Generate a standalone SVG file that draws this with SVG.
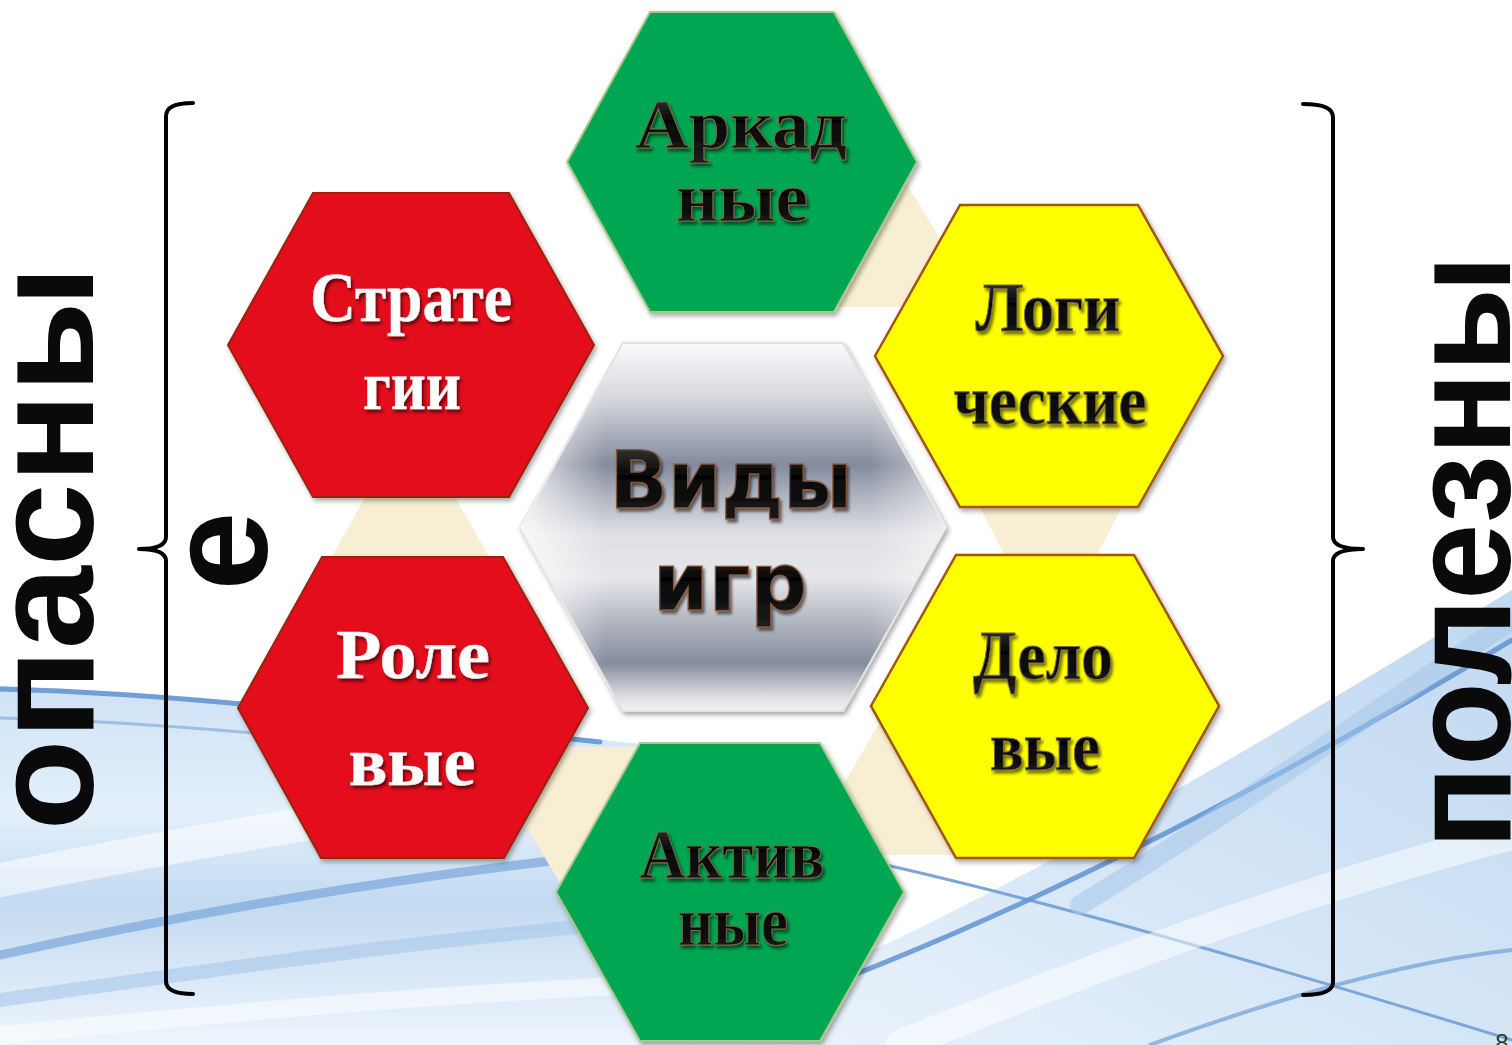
<svg xmlns="http://www.w3.org/2000/svg" width="1512" height="1045" viewBox="0 0 1512 1045">
<defs>
  <style>
    .hex-green{fill:#00a651;stroke:#a9c98a;stroke-width:2}
    .hex-red{fill:#e30b1c;stroke:#9a2410;stroke-width:2}
    .hex-yellow{fill:#ffff00;stroke:#a3540a;stroke-width:2.5}
    .conn{fill:#f8eed3}
    .serif{font-family:"Liberation Serif","Times New Roman",serif;font-weight:bold;font-size:70px;text-anchor:middle}
    .dark{fill:url(#gloss);stroke:#7c6a48;stroke-width:1}
    .light{fill:#ffffff;stroke:#f2e6e6;stroke-width:0.5}
    .sans{font-family:"DejaVu Sans","Liberation Sans",sans-serif;font-weight:bold;font-size:80px;text-anchor:middle;fill:url(#gloss);stroke:#8a5636;stroke-width:1.3}
    .side{font-family:"Liberation Sans",Arial,sans-serif;font-weight:bold;font-size:142px;fill:#0a0a0a;text-anchor:middle}
    .brace{fill:none;stroke:#000;stroke-width:4;stroke-linecap:round;stroke-linejoin:round}
    .wave{fill:none;stroke-linecap:round}
  </style>
  <linearGradient id="gloss" x1="0" y1="0" x2="0" y2="1">
    <stop offset="0" stop-color="#4a4a4a"/>
    <stop offset="0.45" stop-color="#050505"/>
    <stop offset="1" stop-color="#1e1e1e"/>
  </linearGradient>
  <linearGradient id="silver" x1="0" y1="0" x2="0" y2="1">
    <stop offset="0" stop-color="#fbfbfc"/>
    <stop offset="0.15" stop-color="#d6d8dd"/>
    <stop offset="0.33" stop-color="#838b9c"/>
    <stop offset="0.42" stop-color="#b0b5c0"/>
    <stop offset="0.52" stop-color="#dfe0e4"/>
    <stop offset="0.64" stop-color="#e6e7ea"/>
    <stop offset="0.76" stop-color="#b1b5bf"/>
    <stop offset="0.87" stop-color="#848c9d"/>
    <stop offset="0.96" stop-color="#dcdde1"/>
    <stop offset="1" stop-color="#f4f4f5"/>
  </linearGradient>
  <linearGradient id="silverSide" x1="0" y1="0" x2="1" y2="0">
    <stop offset="0" stop-color="#ffffff" stop-opacity="0.8"/>
    <stop offset="0.2" stop-color="#ffffff" stop-opacity="0"/>
    <stop offset="0.82" stop-color="#ffffff" stop-opacity="0"/>
    <stop offset="1" stop-color="#ffffff" stop-opacity="0.55"/>
  </linearGradient>
  <linearGradient id="bgL" x1="0" y1="0" x2="0" y2="1">
    <stop offset="0" stop-color="#cfe2f5"/>
    <stop offset="0.35" stop-color="#e4f0fb"/>
    <stop offset="0.6" stop-color="#c3daf1"/>
    <stop offset="1" stop-color="#eef5fc"/>
  </linearGradient>
  <linearGradient id="bgR" x1="0" y1="1" x2="1" y2="0">
    <stop offset="0" stop-color="#eef5fc"/>
    <stop offset="0.5" stop-color="#cfe2f5"/>
    <stop offset="1" stop-color="#b9d4ef"/>
  </linearGradient>
  <filter id="hexShadow" x="-10%" y="-10%" width="125%" height="125%">
    <feDropShadow dx="2" dy="3" stdDeviation="2.5" flood-color="#000" flood-opacity="0.35"/>
  </filter>
  <filter id="txtShadow" x="-10%" y="-20%" width="125%" height="150%">
    <feDropShadow dx="2" dy="3" stdDeviation="1.6" flood-color="#000" flood-opacity="0.55"/>
  </filter>
</defs>

<rect width="1512" height="1045" fill="#ffffff"/>

<g id="background">
  <path d="M0,686 C150,692 320,708 480,726 C560,735 640,744 700,750 L700,1045 L0,1045 Z" fill="url(#bgL)"/>
  <path class="wave" d="M0,689 C120,692 230,702 330,713 C420,723 520,734 600,742" stroke="#6f9fd6" stroke-width="5"/>
  <path class="wave" d="M0,718 C100,720 200,728 300,737 C380,745 460,752 540,758" stroke="#9dbfe6" stroke-width="3"/>
  <path class="wave" d="M0,880 C150,850 330,818 520,790 C600,778 660,770 720,765" stroke="#ffffff" stroke-width="34" opacity="0.55"/>
  <path class="wave" d="M0,955 C180,915 380,880 560,860 C620,853 680,850 740,848" stroke="#7fa9dc" stroke-width="9" opacity="0.75"/>
  <path class="wave" d="M0,1000 C180,975 380,945 600,925" stroke="#a9c8ea" stroke-width="14" opacity="0.6" stroke-dasharray="2 2"/>
  <path class="wave" d="M0,1035 C200,1015 420,995 640,985" stroke="#ffffff" stroke-width="18" opacity="0.5"/>
  <path d="M640,1045 C900,960 1200,780 1512,590 L1512,1045 Z" fill="url(#bgR)" opacity="0.9"/>
  <path class="wave" d="M850,857 C1050,900 1300,975 1512,1040" stroke="#7aa6d9" stroke-width="3"/>
  <path class="wave" d="M700,1030 C950,950 1230,810 1512,640" stroke="#5f93d2" stroke-width="5" opacity="0.85"/>
  <path class="wave" d="M900,1045 C1100,965 1300,890 1512,835" stroke="#ffffff" stroke-width="30" opacity="0.5"/>
  <path class="wave" d="M1080,905 C1220,820 1360,720 1512,620" stroke="#a6c6ea" stroke-width="20" opacity="0.55" stroke-dasharray="2 2"/>
  <path class="wave" d="M1150,1045 C1300,990 1420,960 1512,950" stroke="#6f9fd6" stroke-width="4" opacity="0.7"/>
</g>

<g id="connectors">
  <polygon class="conn" points="895,165 982,307 830,307 870,240"/>
  <polygon class="conn" points="976,500 1126,500 1094,560 1007,560"/>
  <polygon class="conn" points="886,712 962,855 870,855 840,790"/>
  <polygon class="conn" points="560,747 650,747 566,893 515,808"/>
  <polygon class="conn" points="369,490 451,490 492,562 329,562"/>
</g>

<g id="node-center">
  <polygon points="520,527 623,343 843,343 946,527 843,711 623,711" fill="url(#silver)" stroke="#e2e2e2" stroke-width="2" filter="url(#hexShadow)"/>
  <polygon points="520,527 623,343 843,343 946,527 843,711 623,711" fill="url(#silverSide)"/>
  <text class="sans" x="731" y="508" textLength="243" lengthAdjust="spacingAndGlyphs" filter="url(#txtShadow)">Виды</text>
  <text class="sans" x="730" y="610" textLength="154" lengthAdjust="spacingAndGlyphs" filter="url(#txtShadow)">игр</text>
</g>

<g id="node-arcade">
  <polygon class="hex-green" points="567,162 650,12 834,12 917,162 834,312 650,312" filter="url(#hexShadow)"/>
  <text class="serif dark" x="741" y="148" textLength="212" lengthAdjust="spacingAndGlyphs" filter="url(#txtShadow)">Аркад</text>
  <text class="serif dark" x="742" y="221" textLength="132" lengthAdjust="spacingAndGlyphs" filter="url(#txtShadow)">ные</text>
</g>

<g id="node-strategy">
  <polygon class="hex-red" points="228,345 313,193 509,193 594,345 509,497 313,497" filter="url(#hexShadow)"/>
  <text class="serif light" x="411" y="321" textLength="202" lengthAdjust="spacingAndGlyphs" filter="url(#txtShadow)">Страте</text>
  <text class="serif light" x="412" y="409" textLength="98" lengthAdjust="spacingAndGlyphs" filter="url(#txtShadow)">гии</text>
</g>

<g id="node-logic">
  <polygon class="hex-yellow" points="875,356 960,205 1138,205 1223,356 1138,507 960,507" filter="url(#hexShadow)"/>
  <text class="serif dark" x="1048" y="331" textLength="145" lengthAdjust="spacingAndGlyphs" filter="url(#txtShadow)">Логи</text>
  <text class="serif dark" x="1050" y="424" textLength="193" lengthAdjust="spacingAndGlyphs" filter="url(#txtShadow)">ческие</text>
</g>

<g id="node-business">
  <polygon class="hex-yellow" points="871,706 956,555 1134,555 1219,706 1134,858 956,858" filter="url(#hexShadow)"/>
  <text class="serif dark" x="1043" y="679" textLength="140" lengthAdjust="spacingAndGlyphs" filter="url(#txtShadow)">Дело</text>
  <text class="serif dark" x="1045" y="770" textLength="110" lengthAdjust="spacingAndGlyphs" filter="url(#txtShadow)">вые</text>
</g>

<g id="node-role">
  <polygon class="hex-red" points="238,708 322,557 503,557 588,708 504,858 321,858" filter="url(#hexShadow)"/>
  <text class="serif light" x="413" y="678" textLength="154" lengthAdjust="spacingAndGlyphs" filter="url(#txtShadow)">Роле</text>
  <text class="serif light" x="412" y="785" textLength="127" lengthAdjust="spacingAndGlyphs" filter="url(#txtShadow)">вые</text>
</g>

<g id="node-active">
  <polygon class="hex-green" points="556,892 640,743 820,743 904,892 820,1041 640,1041" filter="url(#hexShadow)"/>
  <text class="serif dark" x="732" y="878" font-size="66" textLength="185" lengthAdjust="spacingAndGlyphs" filter="url(#txtShadow)">Актив</text>
  <text class="serif dark" x="733" y="945" font-size="66" textLength="110" lengthAdjust="spacingAndGlyphs" filter="url(#txtShadow)">ные</text>
</g>

<g id="label-dangerous">
  <path class="brace" d="M193,103 Q166,103 166,116 L166,537 Q166,549 139,549 Q166,549 166,561 L166,981 Q166,994 193,994"/>
  <text class="side" transform="translate(93,548) rotate(-90)" x="0" y="0" textLength="565" lengthAdjust="spacingAndGlyphs">опасны</text>
  <text class="side" transform="translate(267,551) rotate(-90)" x="0" y="0">е</text>
</g>

<g id="label-useful">
  <path class="brace" d="M1303,104 Q1333,104 1333,117 L1333,537 Q1333,549 1363,549 Q1333,549 1333,561 L1333,982 Q1333,995 1303,995"/>
  <text class="side" transform="translate(1510,552) rotate(-90)" x="0" y="0" textLength="594" lengthAdjust="spacingAndGlyphs">полезны</text>
</g>

<text x="1502" y="1051" font-family="Liberation Sans, Arial, sans-serif" font-size="24" fill="#333333" text-anchor="middle">8</text>
</svg>
